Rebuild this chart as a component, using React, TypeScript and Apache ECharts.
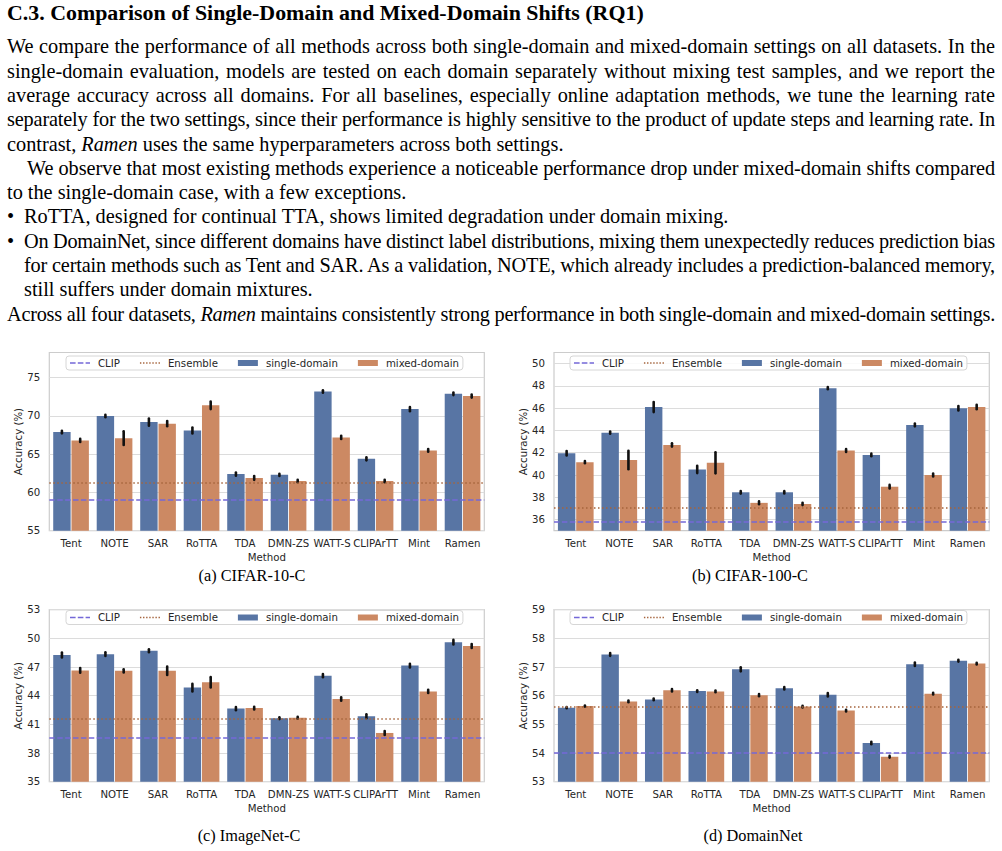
import React, { useEffect, useRef } from "react";
import * as echarts from "echarts";

// ---------------- data ----------------
const methods = ["Tent", "NOTE", "SAR", "RoTTA", "TDA", "DMN-ZS", "WATT-S", "CLIPArTT", "Mint", "Ramen"];

// (a) CIFAR-10-C
const c10Single = [67.9, 70.0, 69.2, 68.1, 62.4, 62.3, 73.2, 64.4, 70.9, 72.9];
const c10SingleErr = [0.17, 0.15, 0.48, 0.4, 0.2, 0.15, 0.15, 0.2, 0.28, 0.17];
const c10Mixed = [66.8, 67.1, 69.0, 71.4, 61.9, 61.5, 67.2, 61.5, 65.5, 72.6];
const c10MixedErr = [0.2, 0.9, 0.35, 0.5, 0.25, 0.15, 0.2, 0.17, 0.17, 0.2];
const c10Clip = 59.0;
const c10Ensemble = 61.3;
const c10Ticks = [55, 60, 65, 70, 75];

// (b) CIFAR-100-C
const c100Single = [41.95, 43.8, 46.1, 40.5, 38.45, 38.45, 47.8, 41.8, 44.5, 46.0];
const c100SingleErr = [0.2, 0.1, 0.45, 0.33, 0.12, 0.1, 0.1, 0.12, 0.13, 0.2];
const c100Mixed = [41.15, 41.35, 42.7, 41.1, 37.5, 37.4, 42.2, 38.95, 40.0, 46.1];
const c100MixedErr = [0.1, 0.83, 0.15, 0.95, 0.13, 0.1, 0.13, 0.16, 0.13, 0.2];
const c100Clip = 35.8;
const c100Ensemble = 37.1;
const c100Ticks = [36, 38, 40, 42, 44, 46, 48, 50];

// (c) ImageNet-C
const inSingle = [48.25, 48.35, 48.7, 44.85, 42.65, 41.65, 46.1, 41.85, 47.15, 49.6];
const inSingleErr = [0.26, 0.2, 0.16, 0.4, 0.17, 0.1, 0.17, 0.2, 0.2, 0.24];
const inMixed = [46.65, 46.6, 46.6, 45.4, 42.7, 41.7, 43.65, 40.1, 44.45, 49.2];
const inMixedErr = [0.24, 0.17, 0.44, 0.54, 0.15, 0.1, 0.17, 0.2, 0.17, 0.2];
const inClip = 39.6;
const inEnsemble = 41.6;
const inTicks = [35, 38, 41, 44, 47, 50, 53];

// (d) DomainNet
const dnSingle = [55.58, 57.44, 55.87, 56.16, 56.92, 56.26, 56.03, 54.35, 57.1, 57.22];
const dnSingleErr = [0.02, 0.05, 0.03, 0.03, 0.07, 0.04, 0.06, 0.04, 0.06, 0.03];
const dnMixed = [55.64, 55.8, 56.19, 56.15, 56.02, 55.62, 55.48, 53.87, 56.07, 57.12];
const dnMixedErr = [0.02, 0.03, 0.04, 0.03, 0.04, 0.03, 0.03, 0.03, 0.03, 0.03];
const dnClip = 54.0;
const dnEnsemble = 55.6;
const dnTicks = [53, 54, 55, 56, 57, 58, 59];

const panels = [
  { caption: "(a) CIFAR-10-C", single: c10Single, singleErr: c10SingleErr, mixed: c10Mixed, mixedErr: c10MixedErr, clip: c10Clip, ens: c10Ensemble, min: 55, max: 78.3, ticks: c10Ticks },
  { caption: "(b) CIFAR-100-C", single: c100Single, singleErr: c100SingleErr, mixed: c100Mixed, mixedErr: c100MixedErr, clip: c100Clip, ens: c100Ensemble, min: 35, max: 51, ticks: c100Ticks },
  { caption: "(c) ImageNet-C", single: inSingle, singleErr: inSingleErr, mixed: inMixed, mixedErr: inMixedErr, clip: inClip, ens: inEnsemble, min: 35, max: 53, ticks: inTicks },
  { caption: "(d) DomainNet", single: dnSingle, singleErr: dnSingleErr, mixed: dnMixed, mixedErr: dnMixedErr, clip: dnClip, ens: dnEnsemble, min: 53, max: 59, ticks: dnTicks },
];

// ---------------- layout / style ----------------
const layout = [
  { grid: { left: 49.3, top: 352.5, width: 435, height: 178.2 }, legend: { left: 66, top: 356 }, cap: { x: 252, y: 575 } },
  { grid: { left: 554, top: 352.5, width: 435.3, height: 178.2 }, legend: { left: 570, top: 356 }, cap: { x: 750, y: 575 } },
  { grid: { left: 49.3, top: 609.7, width: 435, height: 172 }, legend: { left: 66, top: 610.5 }, cap: { x: 249, y: 835 } },
  { grid: { left: 554, top: 609.7, width: 435.3, height: 172 }, legend: { left: 570, top: 610.5 }, cap: { x: 753, y: 835 } },
];

const BLUE = "#5875A4";
const ORANGE = "#CC8963";
const CLIP_COLOR = "#7468d8";
const ENS_COLOR = "#a5643c";
const TXT = "#262626";
const SANS = "DejaVu Sans";
const SERIF = "'Liberation Serif', 'Times New Roman', serif";

// legend glyphs (dashed / dotted line icons)
const DASH_ICON = "path://M0,0h5.6v1.6h-5.6z M7.8,0h5.6v1.6h-5.6z M15.6,0h4.4v1.6h-4.4z";
const DOT_ICON = "path://M0,0h1.4v1.6h-1.4z M3.1,0h1.4v1.6h-1.4z M6.2,0h1.4v1.6h-1.4z M9.3,0h1.4v1.6h-1.4z M12.4,0h1.4v1.6h-1.4z M15.5,0h1.4v1.6h-1.4z M18.6,0h1.4v1.6h-1.4z";

function buildOption(): any {
  const grid = layout.map((l) => ({
    ...l.grid,
    show: true,
    borderColor: "#cccccc",
    borderWidth: 1.2,
    backgroundColor: "transparent",
    containLabel: false,
  }));
  const xAxis = panels.map((_, i) => ({
    type: "category",
    gridIndex: i,
    data: methods,
    axisLine: { show: false },
    axisTick: { show: false },
    splitLine: { show: false },
    axisLabel: { interval: 0, fontFamily: SANS, fontSize: 10.2, color: TXT, margin: 7.5 },
    name: "Method",
    nameLocation: "middle",
    nameGap: 22,
    nameTextStyle: { fontFamily: SANS, fontSize: 10.2, color: TXT },
  }));
  const yAxis = panels.map((p, i) => ({
    type: "value",
    gridIndex: i,
    min: p.min,
    max: p.max,
    axisLine: { show: false },
    axisTick: { show: false, customValues: p.ticks },
    axisLabel: { customValues: p.ticks, fontFamily: SANS, fontSize: 10.2, color: TXT, margin: 9 },
    splitLine: { show: true, lineStyle: { color: "#dcdcdc", width: 1 } },
    name: "Accuracy (%)",
    nameLocation: "middle",
    nameGap: 25,
    nameRotate: 90,
    nameTextStyle: { fontFamily: SANS, fontSize: 10.2, color: TXT },
  }));

  const series: any[] = [];
  panels.forEach((p, i) => {
    series.push({
      type: "bar",
      name: "single-domain",
      xAxisIndex: i,
      yAxisIndex: i,
      data: p.single,
      barWidth: "40%",
      barGap: "5%",
      itemStyle: { color: BLUE },
      z: 2,
      silent: true,
    });
    series.push({
      type: "bar",
      name: "mixed-domain",
      xAxisIndex: i,
      yAxisIndex: i,
      data: p.mixed,
      barWidth: "40%",
      barGap: "5%",
      itemStyle: { color: ORANGE },
      z: 2,
      silent: true,
    });
    const errData: number[][] = [];
    p.single.forEach((v, j) => errData.push([j, v, p.singleErr[j], -1]));
    p.mixed.forEach((v, j) => errData.push([j, v, p.mixedErr[j], 1]));
    series.push({
      type: "custom",
      name: "err",
      xAxisIndex: i,
      yAxisIndex: i,
      data: errData,
      encode: { x: 0, y: 1 },
      clip: false,
      silent: true,
      z: 3,
      renderItem: (_params: any, api: any) => {
        const cat = api.value(0);
        const v = api.value(1);
        const e = api.value(2);
        const side = api.value(3);
        const band = api.size([1, 0])[0];
        const top = api.coord([cat, v + e]);
        const bot = api.coord([cat, v - e]);
        const x = top[0] + side * 0.21 * band;
        return {
          type: "line",
          shape: { x1: x, y1: top[1], x2: x, y2: bot[1] },
          style: { stroke: "#111111", lineWidth: 2.6, lineCap: "round" },
        };
      },
    });
    series.push({
      type: "line",
      name: "CLIP",
      xAxisIndex: i,
      yAxisIndex: i,
      data: [],
      symbol: "none",
      color: CLIP_COLOR,
      lineStyle: { color: CLIP_COLOR, width: 1.5, type: [5.5, 2.4] },
      z: 5,
      markLine: {
        silent: true,
        symbol: ["none", "none"],
        label: { show: false },
        lineStyle: { color: CLIP_COLOR, width: 1.5, type: [5.5, 2.4] },
        data: [{ yAxis: p.clip }],
      },
    });
    series.push({
      type: "line",
      name: "Ensemble",
      xAxisIndex: i,
      yAxisIndex: i,
      data: [],
      symbol: "none",
      color: ENS_COLOR,
      lineStyle: { color: ENS_COLOR, width: 1.5, type: [1.5, 2.5] },
      z: 5,
      markLine: {
        silent: true,
        symbol: ["none", "none"],
        label: { show: false },
        lineStyle: { color: ENS_COLOR, width: 1.5, type: [1.5, 2.5] },
        data: [{ yAxis: p.ens }],
      },
    });
  });

  const legend = layout.map((l) => ({
    left: l.legend.left,
    top: l.legend.top,
    orient: "horizontal",
    selectedMode: false,
    data: [
      { name: "CLIP", icon: DASH_ICON, itemStyle: { color: CLIP_COLOR } },
      { name: "Ensemble", icon: DOT_ICON, itemStyle: { color: ENS_COLOR } },
      { name: "single-domain", icon: "rect" },
      { name: "mixed-domain", icon: "rect" },
    ],
    itemWidth: 20,
    itemHeight: 6,
    itemGap: 20,
    padding: [2, 4, 2, 4],
    borderColor: "#d6d6d6",
    borderWidth: 1,
    borderRadius: 3,
    backgroundColor: "rgba(255,255,255,0.85)",
    textStyle: { fontFamily: SANS, fontSize: 10.2, color: TXT, padding: [0, 0, 0, 3] },
  }));

  const graphic = panels.map((p, i) => ({
    type: "text",
    x: layout[i].cap.x,
    y: layout[i].cap.y,
    style: {
      text: p.caption,
      font: "16.3px 'Liberation Serif'",
      fill: "#000",
      align: "center",
      verticalAlign: "middle",
    },
  }));

  return { animation: false, grid, xAxis, yAxis, series, legend, graphic };
}

// ---------------- text ----------------
type Part = { t: string; i?: boolean };
type Line = { parts: Part[]; x: number; justify: boolean; bullet?: boolean };

const bodyLines: Line[] = [
  { x: 7, justify: true, parts: [{ t: "We compare the performance of all methods across both single-domain and mixed-domain settings on all datasets.  In the" }] },
  { x: 7, justify: true, parts: [{ t: "single-domain evaluation, models are tested on each domain separately without mixing test samples, and we report the" }] },
  { x: 7, justify: true, parts: [{ t: "average accuracy across all domains.  For all baselines, especially online adaptation methods, we tune the learning rate" }] },
  { x: 7, justify: true, parts: [{ t: "separately for the two settings, since their performance is highly sensitive to the product of update steps and learning rate.  In" }] },
  { x: 7, justify: false, parts: [{ t: "contrast, " }, { t: "Ramen", i: true }, { t: " uses the same hyperparameters across both settings." }] },
  { x: 27, justify: true, parts: [{ t: "We observe that most existing methods experience a noticeable performance drop under mixed-domain shifts compared" }] },
  { x: 7, justify: false, parts: [{ t: "to the single-domain case, with a few exceptions." }] },
  { x: 24, justify: false, bullet: true, parts: [{ t: "RoTTA, designed for continual TTA, shows limited degradation under domain mixing." }] },
  { x: 24, justify: true, bullet: true, parts: [{ t: "On DomainNet, since different domains have distinct label distributions, mixing them unexpectedly reduces prediction bias" }] },
  { x: 24, justify: true, parts: [{ t: "for certain methods such as Tent and SAR. As a validation, NOTE, which already includes a prediction-balanced memory," }] },
  { x: 24, justify: false, parts: [{ t: "still suffers under domain mixtures." }] },
  { x: 7, justify: true, parts: [{ t: "Across all four datasets, " }, { t: "Ramen", i: true }, { t: " maintains consistently strong performance in both single-domain and mixed-domain settings." }] },
];

const TITLE = "C.3. Comparison of Single-Domain and Mixed-Domain Shifts (RQ1)";
const RIGHT_EDGE = 995;
const BODY_SIZE = 20.3;
const LINE_H = 24.3;
const FIRST_TOP = 34.3;

export default function App() {
  const chartRef = useRef<HTMLDivElement>(null);
  const lineRefs = useRef<(HTMLSpanElement | null)[]>([]);

  useEffect(() => {
    document.body.style.margin = "0";
    bodyLines.forEach((ln, k) => {
      const el = lineRefs.current[k];
      if (!el || !ln.justify) return;
      el.style.wordSpacing = "0px";
      el.style.letterSpacing = "0px";
      const w = el.getBoundingClientRect().width;
      const avail = RIGHT_EDGE - ln.x;
      const txt = (el.textContent || "").replace(/\s+/g, " ");
      const n = txt.split(" ").length - 1;
      const extra = avail - w;
      if (extra >= 0) {
        if (n > 0) el.style.wordSpacing = extra / n + "px";
      } else {
        // too wide: tighten letters a little, keep word spaces natural
        const chars = txt.length;
        el.style.letterSpacing = extra / chars + "px";
        const w2 = el.getBoundingClientRect().width;
        if (n > 0) el.style.wordSpacing = (avail - w2) / n + "px";
      }
    });

    const chart = echarts.init(chartRef.current!, null, { renderer: "svg" });
    chart.setOption(buildOption());
    return () => chart.dispose();
  }, []);

  return (
    <div style={{ position: "absolute", left: 0, top: 0, width: 1002, height: 851, background: "#fff", overflow: "hidden" }}>
      <div ref={chartRef} style={{ position: "absolute", left: 0, top: 0, width: 1002, height: 851 }} />
      <div style={{ position: "absolute", left: 0, top: 0, width: 1002, height: 335, fontFamily: SERIF, color: "#000" }}>
        <div style={{ position: "absolute", left: 7, top: 0.5, fontSize: 21.9, fontWeight: "bold", lineHeight: LINE_H + "px", whiteSpace: "nowrap" }}>
          {TITLE}
        </div>
        {bodyLines.map((ln, k) => (
          <React.Fragment key={k}>
            {ln.bullet && (
              <div style={{ position: "absolute", left: 7, top: FIRST_TOP + k * LINE_H, fontSize: BODY_SIZE, lineHeight: LINE_H + "px" }}>•</div>
            )}
            <div style={{ position: "absolute", left: ln.x, top: FIRST_TOP + k * LINE_H, fontSize: BODY_SIZE, lineHeight: LINE_H + "px", whiteSpace: "nowrap" }}>
              <span ref={(el) => { lineRefs.current[k] = el; }}>
                {ln.parts.map((p, j) => (p.i ? <i key={j}>{p.t}</i> : <React.Fragment key={j}>{p.t}</React.Fragment>))}
              </span>
            </div>
          </React.Fragment>
        ))}
      </div>
    </div>
  );
}
